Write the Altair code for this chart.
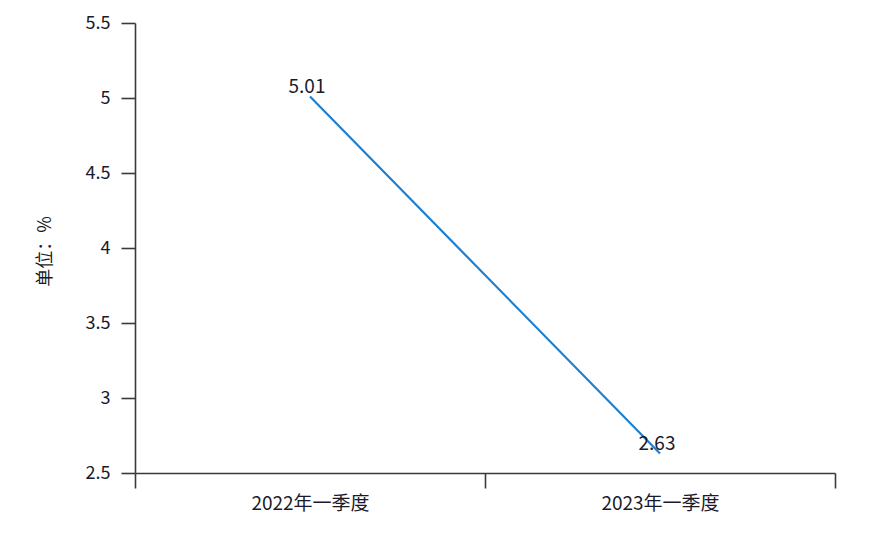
import altair as alt
import pandas as pd

categories = ["2022年一季度", "2023年一季度"]
values = [5.01, 2.63]
y_ticks = [2.5, 3, 3.5, 4, 4.5, 5, 5.5]

df = pd.DataFrame({"period": categories, "value": values})

FONT = "Noto Sans CJK SC"
AX = "#3a3a3a"

x = alt.X("period:N", sort=categories, title=None,
          scale=alt.Scale(paddingInner=0, paddingOuter=0),
          axis=alt.Axis(labelAngle=0, tickBand="extent", tickSize=15, grid=False,
                        labelFontSize=19, labelPadding=6))
y = alt.Y("value:Q", title="单位：%",
          scale=alt.Scale(domain=[2.5, 5.5], nice=False, zero=False),
          axis=alt.Axis(values=y_ticks, format="~g", tickSize=14, grid=False,
                        labelFontSize=18, labelPadding=11,
                        titleFontSize=18, titleFontWeight="normal",
                        titleX=-90, titleY=228, titleAlign="center",
                        titleBaseline="middle"))

line = alt.Chart(df).mark_line(color="#1e7fd0", strokeWidth=2.2).encode(x=x, y=y)
labels = alt.Chart(df).mark_text(font=FONT, fontSize=19, color="#1a1a2a",
                                 dx=-3, dy=-10, baseline="middle").encode(
    x=x, y=y,
    text=alt.Text("value:Q", format=".2f"))

chart = (line + labels).properties(
    width=700, height=450,
    autosize=alt.AutoSizeParams(type="none"),
    padding={"left": 127, "top": 15, "right": 41, "bottom": 69},
).configure(background="white").configure_view(
    strokeWidth=0, stroke="transparent").configure_axis(
    domainColor=AX, tickColor=AX, domainWidth=1.6, tickWidth=1.6,
    labelFont=FONT, labelColor="#1a1a2a", titleFont=FONT, titleColor="#1a1a2a",
    grid=False)

chart.save("out.html", embed_options={"renderer": "svg", "actions": False})
